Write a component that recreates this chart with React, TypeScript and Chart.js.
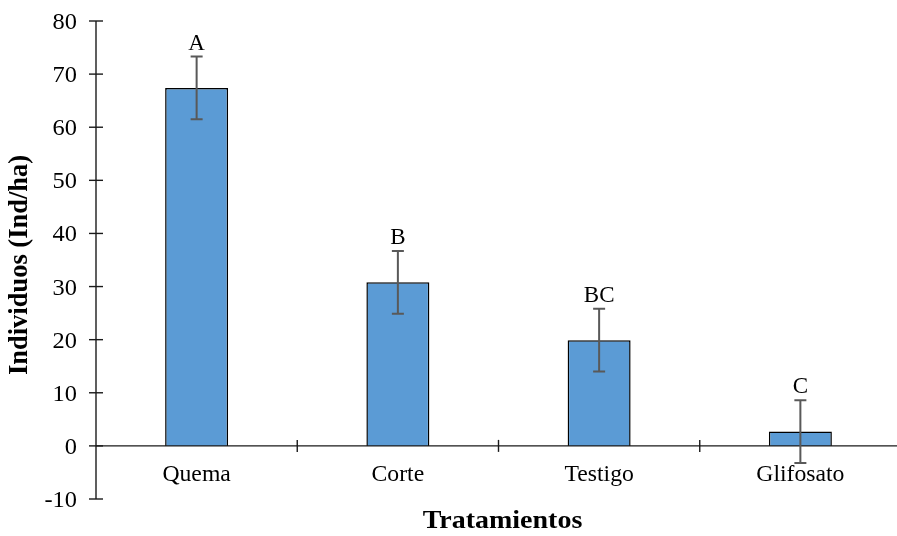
import React, { useEffect, useRef } from "react";
import { Chart, registerables } from "chart.js";

Chart.register(...registerables);

const categories = ["Quema", "Corte", "Testigo", "Glifosato"];
const means = [67.4, 30.8, 19.9, 2.7];
const errors = [5.9, 5.9, 5.9, 5.9];
const letters = ["A", "B", "BC", "C"];
const yTicks = [-10, 0, 10, 20, 30, 40, 50, 60, 70, 80];
const yTitle = "Individuos (Ind/ha)";
const xTitle = "Tratamientos";

const FAMILY = '"Liberation Serif", "Times New Roman", Times, serif';

function drawText(
  ctx: CanvasRenderingContext2D,
  text: string,
  x: number,
  y: number,
  font: string,
  align: CanvasTextAlign,
  sx: number,
  baseline: CanvasTextBaseline = "middle"
) {
  ctx.save();
  ctx.translate(x, y);
  ctx.scale(sx, 1);
  ctx.font = font;
  ctx.fillStyle = "#000";
  ctx.textAlign = align;
  ctx.textBaseline = baseline;
  ctx.fillText(text, 0, 0);
  ctx.restore();
}

const overlay = {
  id: "overlay",
  afterDatasetsDraw(chart: any) {
    const ctx: CanvasRenderingContext2D = chart.ctx;
    const x = chart.scales.x;
    const y = chart.scales.y;
    const area = chart.chartArea;
    const y0 = y.getPixelForValue(0);

    ctx.save();
    ctx.strokeStyle = "#1a1a1a";
    ctx.lineWidth = 1.4;
    ctx.beginPath();
    ctx.moveTo(area.left, y.getPixelForValue(yTicks[yTicks.length - 1]));
    ctx.lineTo(area.left, y.getPixelForValue(yTicks[0]));
    ctx.stroke();
    ctx.beginPath();
    ctx.moveTo(area.left, y0);
    ctx.lineTo(area.right, y0);
    ctx.stroke();
    yTicks.forEach((v) => {
      const py = y.getPixelForValue(v);
      ctx.beginPath();
      ctx.moveTo(area.left - 7, py);
      ctx.lineTo(area.left + 7, py);
      ctx.stroke();
      drawText(ctx, String(v), area.left - 19, py + 2, `23px ${FAMILY}`, "right", 1.06);
    });
    const n = categories.length;
    const cw = (area.right - area.left) / n;
    for (let i = 1; i <= n; i++) {
      const px = area.left + i * cw;
      ctx.beginPath();
      ctx.moveTo(px, y0 - 6);
      ctx.lineTo(px, y0 + 6);
      ctx.stroke();
    }
    categories.forEach((c, i) => {
      const px = x.getPixelForValue(i);
      drawText(ctx, c, px, y0 + 29, `23px ${FAMILY}`, "center", 1.03);
    });
    ctx.strokeStyle = "#595959";
    ctx.lineWidth = 2;
    means.forEach((m, i) => {
      const px = x.getPixelForValue(i);
      const top = y.getPixelForValue(m + errors[i]);
      const bot = y.getPixelForValue(m - errors[i]);
      ctx.beginPath();
      ctx.moveTo(px, top);
      ctx.lineTo(px, bot);
      ctx.moveTo(px - 6, top);
      ctx.lineTo(px + 6, top);
      ctx.moveTo(px - 6, bot);
      ctx.lineTo(px + 6, bot);
      ctx.stroke();
      drawText(ctx, letters[i], px, top - 13, `23px ${FAMILY}`, "center", 1.0);
    });
    drawText(ctx, xTitle, (area.left + area.right) / 2 + 4, 528, `bold 25px ${FAMILY}`, "center", 1.12, "alphabetic");
    ctx.save();
    ctx.translate(20, (area.top + area.bottom) / 2 + 5);
    ctx.rotate(-Math.PI / 2);
    ctx.font = `bold 26.5px ${FAMILY}`;
    ctx.fillStyle = "#000";
    ctx.textAlign = "center";
    ctx.textBaseline = "middle";
    ctx.fillText(yTitle, 0, 0);
    ctx.restore();
    ctx.restore();
  },
};

export default function App() {
  const ref = useRef<HTMLCanvasElement | null>(null);
  useEffect(() => {
    document.body.style.margin = "0";
    document.body.style.overflow = "hidden";
    const chart = new Chart(ref.current!, {
      type: "bar",
      data: {
        labels: categories,
        datasets: [
          {
            data: means,
            backgroundColor: "#5B9BD5",
            borderColor: "#000",
            borderWidth: 1.5,
            categoryPercentage: 1,
            barPercentage: 0.313,
          },
        ],
      },
      options: {
        animation: false,
        responsive: false,
        devicePixelRatio: 1,
        layout: { padding: { left: 96, right: 4, top: 21, bottom: 37 } },
        plugins: { legend: { display: false }, tooltip: { enabled: false } },
        scales: {
          x: { display: false },
          y: { display: false, min: -10, max: 80 },
        },
      },
      plugins: [overlay],
    });
    let alive = true;
    if ((document as any).fonts) {
      Promise.all([
        (document as any).fonts.load(`23px "Liberation Serif"`),
        (document as any).fonts.load(`bold 25px "Liberation Serif"`),
      ]).then(() => {
        if (alive) chart.draw();
      });
    }
    return () => {
      alive = false;
      chart.destroy();
    };
  }, []);
  return (
    <div>
      <span style={{ fontFamily: '"Liberation Serif"', position: "absolute", visibility: "hidden" }}>
        a<b>b</b>
      </span>
      <canvas ref={ref} width={905} height={536} style={{ display: "block" }} />
    </div>
  );
}
